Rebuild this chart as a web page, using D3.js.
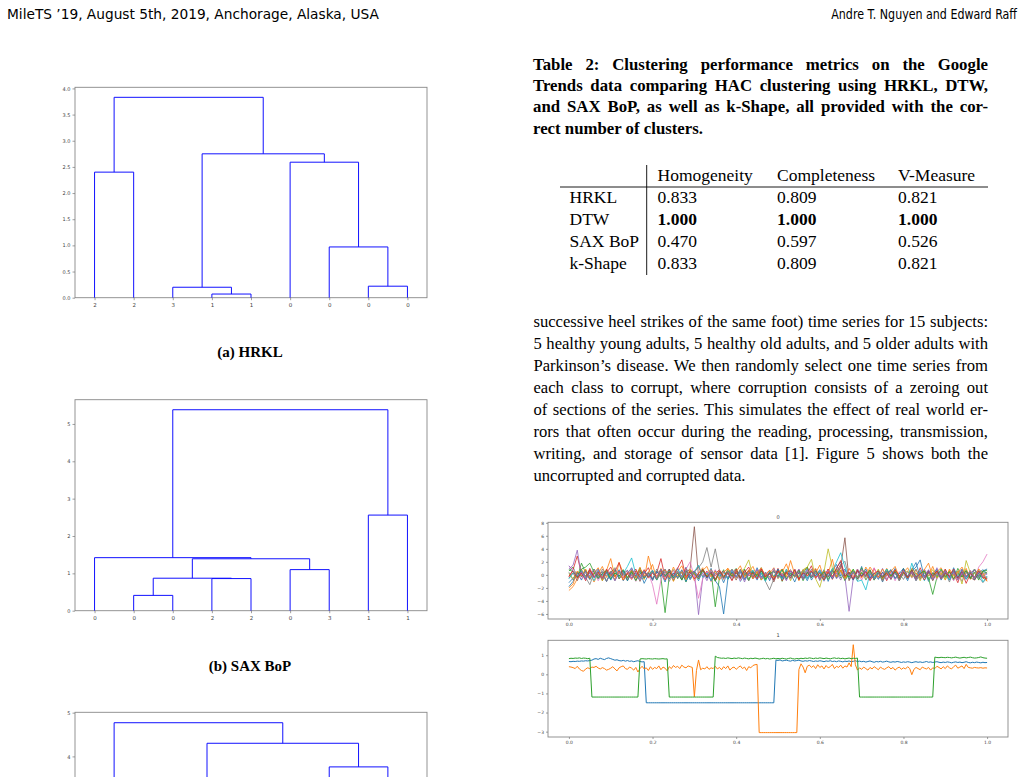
<!DOCTYPE html>
<html>
<head>
<meta charset="utf-8">
<script src="https://cdn.jsdelivr.net/npm/d3@7"></script>
<style>
  body { margin: 0; background: #fff; }
  svg { display: block; }
</style>
</head>
<body>
<svg id="page" width="1023" height="777"></svg>
<script>
// ---------- data ----------
const headerLeft = "MileTS ’19, August 5th, 2019, Anchorage, Alaska, USA";
const headerRight = "Andre T. Nguyen and Edward Raff";

// dendrograms: leaf labels in display order, merges as [childA, childB, height]
// (ids 0..n-1 are leaves, n+k is the k-th merge)
const hrklLeaves = ["2", "2", "3", "1", "1", "0", "0", "0", "0"];
const hrklMerges = [[3, 4, 0.07], [2, 9, 0.20], [7, 8, 0.22], [6, 11, 0.97],
                    [5, 12, 2.59], [0, 1, 2.40], [10, 13, 2.75], [14, 15, 3.83]];
const hrklTicks = [0, 0.5, 1, 1.5, 2, 2.5, 3, 3.5, 4];

const saxLeaves = ["0", "0", "0", "2", "2", "0", "3", "1", "1"];
const saxMerges = [[1, 2, 0.41], [3, 4, 0.86], [9, 10, 0.87], [5, 6, 1.10],
                   [11, 12, 1.39], [0, 13, 1.42], [7, 8, 2.56], [14, 15, 5.38]];
const saxTicks = [0, 1, 2, 3, 4, 5];

const dtwLeaves = ["1", "1", "2", "2", "2", "3", "0", "0", "0"];
const dtwMerges = [[4, 5, 1.2], [3, 9, 2.0], [2, 10, 2.9], [7, 8, 0.9],
                   [6, 12, 3.76], [11, 13, 4.30], [0, 1, 2.1], [15, 14, 4.77]];
const dtwTicks = [0, 1, 2, 3, 4, 5];

// table 2
const captionLines = [
  "Table 2: Clustering performance metrics on the Google",
  "Trends data comparing HAC clustering using HRKL, DTW,",
  "and SAX BoP, as well as k-Shape, all provided with the cor-",
  "rect number of clusters."
];
const methods = ["HRKL", "DTW", "SAX BoP", "k-Shape"];
const metrics = ["Homogeneity", "Completeness", "V-Measure"];
const homogeneity = [0.833, 1.000, 0.470, 0.833];
const completeness = [0.809, 1.000, 0.597, 0.809];
const vmeasure = [0.821, 1.000, 0.526, 0.821];

const bodyLines = [
  "successive heel strikes of the same foot) time series for 15 subjects:",
  "5 healthy young adults, 5 healthy old adults, and 5 older adults with",
  "Parkinson’s disease. We then randomly select one time series from",
  "each class to corrupt, where corruption consists of a zeroing out",
  "of sections of the series. This simulates the effect of real world er-",
  "rors that often occur during the reading, processing, transmission,",
  "writing, and storage of sensor data [1]. Figure 5 shows both the",
  "uncorrupted and corrupted data."
];

// figure 5, panel "0": 15 uncorrupted gait series, sampled over x = 0..1
const gait0 = [
  [-1.2,-0.5,0.3,-0.8,0.6,-0.2,0.9,-0.6,0.1,-1.0,0.4,-0.3,0.8,-0.9,0.2,1.1,-0.4,0.5,-1.3,0.0,
   0.7,-0.6,0.3,-1.1,0.9,-0.2,0.4,-0.8,1.2,-0.5,0.2,-0.9,0.6,-0.1,1.0,-0.7,0.3,-1.2,0.5,-0.4,
   0.8,-1.0,0.1,0.6,-0.5,1.1,-0.3,0.4,-0.9,0.7,-0.2,0.9,-0.6,0.2,-1.1,0.5,-0.3,1.0,-0.8,0.3,
   -0.4,0.8,-1.0,0.6,1.6,-0.2,0.9,-0.7,0.4,-0.5,1.3,-0.8,0.2,-0.3,0.7,-1.1,0.5,-0.2,1.0,-0.6,
   0.3,-0.9,0.8,1.9,-0.4,0.6,-1.0,0.2,0.9,-0.5,0.4,-0.8,1.1,-0.3,0.5,-0.7,0.2,0.8,-0.4,0.6,0.9],
  [-2.4,-1.8,-0.6,0.9,-0.3,0.5,-1.1,0.2,1.3,-0.4,0.6,-0.8,1.9,0.3,-0.5,0.8,-0.2,1.2,-0.7,2.9,
   0.4,-0.6,1.0,-0.3,0.7,-1.0,0.5,1.4,-0.2,0.6,-0.9,0.3,1.1,-0.5,0.8,-0.1,0.6,-0.7,1.0,0.2,
   -0.4,0.9,-0.8,0.5,1.3,-0.3,0.7,-0.6,0.2,1.1,-0.5,0.4,1.7,-0.2,0.8,-0.9,0.6,1.2,-0.4,0.3,
   1.5,-0.6,0.9,-0.2,0.5,1.0,-0.8,0.4,-0.3,0.9,-0.5,1.2,0.1,-0.7,0.6,-0.2,1.0,-0.4,0.7,-0.9,
   0.3,1.1,-0.3,0.8,-0.6,0.5,-0.2,1.3,-0.5,0.4,-0.8,0.9,-0.1,0.6,-0.4,1.0,-0.7,0.3,0.8,-0.5,-0.9],
  [0.6,1.2,-0.4,1.8,0.3,-0.7,0.9,-0.2,0.5,-1.0,0.4,1.1,-0.6,0.2,-0.9,0.7,-0.3,1.0,-0.5,0.3,
   -0.8,0.6,-0.4,-5.8,-0.2,0.8,-0.6,0.4,-1.1,0.7,0.1,-0.5,0.9,-0.3,0.5,-4.9,-0.4,0.8,-0.7,0.3,
   1.0,-0.5,0.2,-0.9,0.6,-0.1,1.1,-0.6,0.4,-0.3,0.8,-1.0,0.5,-0.2,0.9,-0.7,0.3,1.2,-0.4,0.6,
   -0.8,0.4,-0.3,1.0,-0.5,0.7,-0.9,0.2,0.6,-0.4,1.1,-0.2,0.5,-0.8,0.3,-0.6,0.9,-0.1,0.4,-0.7,
   1.0,-0.3,0.6,-0.9,0.2,0.8,-0.5,-3.0,-0.4,0.7,-0.2,0.5,-0.8,1.0,-0.3,0.4,-0.6,0.9,-0.2,0.5,0.3],
  [-0.3,0.8,2.9,0.2,-0.6,1.0,-0.4,0.5,-0.9,0.3,1.2,-0.2,0.6,-0.8,0.4,-0.1,0.9,-0.5,0.2,1.1,
   -0.6,0.3,2.5,-0.4,0.7,-0.9,0.5,-0.2,1.0,-0.7,0.4,1.3,-0.3,0.6,-1.0,0.2,0.8,-0.5,0.3,-0.2,
   0.9,-0.6,0.4,1.2,-0.3,0.5,-0.8,0.1,0.7,-0.4,1.0,-0.9,0.3,0.6,-0.2,0.8,-0.5,0.2,1.4,-0.6,
   0.4,-0.3,0.9,-0.7,0.5,1.6,-0.4,0.2,-0.8,0.7,-0.1,0.5,-0.6,1.0,-0.3,0.4,-0.9,0.6,0.2,-0.5,
   0.8,-0.2,0.4,-0.7,1.1,-0.4,0.3,-0.8,0.6,-0.1,0.9,-0.5,0.2,-1.2,0.7,-0.3,0.5,-0.8,0.4,0.1,-0.6],
  [0.9,1.5,3.8,-0.2,0.4,-0.7,0.8,-0.3,0.5,-1.0,0.2,0.7,-0.5,0.3,-0.8,1.0,-0.4,0.6,-0.2,0.4,
   -0.9,0.5,-0.3,0.8,-0.6,0.2,1.1,-0.4,0.6,-0.7,0.3,-6.1,-0.5,0.4,-0.9,0.7,-0.2,0.5,-0.6,0.9,
   -0.3,0.4,-1.1,0.6,-0.2,0.8,-0.5,0.3,-0.7,1.0,-0.4,0.2,-0.8,0.6,-0.1,0.9,-0.6,0.3,-0.4,0.7,
   -0.9,0.5,-0.2,0.8,-0.6,0.4,-0.3,-5.6,-0.5,0.9,-0.2,0.6,-0.8,0.3,-0.4,1.0,-0.7,0.2,0.5,-0.3,
   0.8,-0.6,0.4,-0.9,0.3,-0.2,0.7,-0.5,1.1,-0.4,0.6,-0.8,0.2,0.5,-1.0,0.4,-0.3,0.8,-0.6,0.3,0.1],
  [-0.5,0.3,-0.9,0.6,-0.2,0.8,-0.4,0.1,-0.7,0.5,-0.3,0.9,-0.6,0.2,0.7,-0.5,0.3,-1.0,0.4,-0.2,
   0.6,-0.8,0.3,-0.1,0.9,-0.4,0.5,-0.7,0.2,1.0,7.4,-0.3,0.8,-0.5,0.4,-0.9,0.2,0.6,-0.4,0.3,
   -0.8,0.5,-0.2,0.7,-0.6,0.1,0.9,-0.3,0.4,-1.1,0.6,-0.5,0.2,0.8,-0.4,0.3,-0.7,0.5,-0.1,0.9,
   -0.6,0.2,-0.4,0.7,-0.2,1.2,5.7,-0.9,0.4,-0.6,0.3,-0.3,0.8,-0.5,0.2,-0.8,0.6,-0.1,0.4,-0.7,
   0.9,-0.4,0.2,-0.6,0.5,-0.2,0.7,-0.9,0.3,-0.5,0.8,-0.3,0.4,-0.7,0.1,0.6,-0.4,-0.8,0.2,-0.5,-0.3],
  [1.3,0.9,0.2,-0.6,0.5,-0.3,0.8,-0.9,0.2,0.6,-0.4,1.0,-0.2,0.4,-0.7,0.3,-1.0,0.6,-0.3,0.2,
   -1.5,-4.5,-0.8,0.5,-0.2,0.7,-0.5,0.3,0.9,2.0,-0.4,-3.6,-0.6,0.5,-0.3,0.8,-0.7,0.2,0.6,-0.4,
   0.3,-0.9,0.7,-0.2,0.5,-0.6,1.0,-0.3,0.2,-0.8,0.6,-0.1,0.4,-0.7,0.9,-0.5,0.3,-0.2,0.8,-0.6,
   0.4,-1.0,0.7,-0.3,0.2,0.6,-0.5,0.9,-0.2,0.4,-0.8,0.3,-0.4,1.1,-0.6,0.2,-0.3,0.7,-0.9,0.5,
   -0.2,0.6,-0.5,0.3,-0.8,0.9,-0.1,0.4,-0.7,0.6,-0.3,0.2,-0.9,0.5,0.8,-0.4,0.3,-0.6,1.2,2.0,3.2],
  [0.4,-0.8,0.2,0.6,-0.4,-1.5,0.3,-0.6,0.9,-0.2,0.5,-0.9,0.3,0.7,-0.5,0.1,-0.8,0.6,-0.3,0.4,
   -0.7,0.9,-0.2,0.5,-1.0,0.3,-0.4,0.8,-0.6,0.2,0.5,1.1,2.0,4.2,1.2,4.0,0.6,-0.5,0.3,-0.8,
   0.6,-0.2,0.4,-0.9,0.7,-0.3,0.2,-1.0,-2.3,-0.6,0.5,-0.4,0.8,-0.2,0.3,-0.7,0.6,-0.5,0.9,-0.1,
   0.4,-0.8,0.2,0.6,-0.3,1.4,2.1,-0.4,0.5,-0.9,0.3,-0.2,0.7,-0.6,0.4,-1.0,0.2,0.8,-0.5,0.3,
   -0.7,0.5,-0.3,0.9,-0.6,0.2,0.4,-0.8,0.6,-0.2,0.3,-1.1,0.7,-0.4,0.5,-0.6,0.2,0.9,-0.3,-1.2,-0.4],
  [0.2,-0.6,0.5,-0.3,0.8,-0.5,0.1,0.6,-0.9,0.4,-0.2,0.7,-0.4,0.3,-0.8,0.5,-0.1,0.9,-0.6,0.2,
   0.4,-0.7,0.6,-0.3,0.2,-0.9,0.5,-0.4,0.8,-0.2,0.3,-0.6,0.7,-0.1,0.4,-1.0,0.6,-0.3,0.2,0.9,
   -0.5,0.4,1.0,2.3,-0.2,0.6,-0.8,0.3,-0.4,0.7,-0.6,0.2,0.5,-0.9,0.4,-0.2,0.8,1.2,2.4,-0.6,
   -1.9,0.5,4.0,1.1,-0.3,0.6,-0.5,0.2,0.8,-0.4,0.3,-0.7,0.5,-0.2,0.9,-0.6,0.4,-0.3,0.7,-0.8,
   0.2,0.6,-0.4,0.3,-0.9,0.5,-0.1,0.8,-0.5,0.3,-0.7,0.4,-0.2,0.6,-1.4,2.2,0.3,-0.5,0.4,-0.2,0.5],
  [-0.6,0.3,-0.2,0.7,-0.5,0.4,-0.9,0.6,-0.1,0.3,-0.7,0.8,-0.4,0.2,1.3,2.6,0.1,-0.6,0.5,-0.3,
   0.7,-0.8,0.4,-0.2,0.6,-0.5,0.9,-0.3,0.2,-0.7,0.5,1.5,-0.4,0.3,-0.9,0.6,-0.2,0.4,-0.6,0.8,
   -0.3,0.5,-0.8,0.2,0.7,-0.4,0.3,-1.0,0.6,-0.2,0.4,-0.7,0.9,-0.5,0.2,-0.3,0.8,-0.6,0.4,-0.1,
   0.6,-0.9,0.3,0.7,2.0,3.4,1.2,-0.4,0.5,-1.0,-0.8,-2.3,0.2,-0.5,0.6,-0.3,0.9,-0.7,0.4,-0.2,
   0.5,-0.6,1.8,-0.3,0.7,-0.9,0.4,-0.2,0.6,-0.5,0.3,-0.8,0.8,-0.4,0.2,-0.6,0.5,-0.3,0.7,-1.1,-0.2],
  [-1.8,-1.0,0.4,-0.3,0.7,-0.6,0.2,0.9,-0.4,0.5,-0.8,0.3,-0.2,0.6,-0.9,0.4,-0.1,0.8,-0.5,0.3,
   -0.7,0.5,-0.2,0.9,-0.6,0.3,-0.4,0.7,-1.0,0.2,0.6,-0.3,0.8,-0.5,0.4,-0.9,-1.8,-6.0,-0.7,0.5,
   -0.3,0.8,-0.6,0.2,0.4,-0.8,0.6,-0.2,0.3,-0.7,0.9,-0.4,0.5,-0.1,0.7,-0.6,0.3,-0.9,0.5,-0.2,
   0.8,-0.4,0.3,-0.6,1.1,2.0,-0.3,0.4,-0.8,0.6,-0.2,0.9,-0.5,0.3,-0.7,0.4,-0.1,0.8,-0.6,0.2,
   1.0,-0.5,0.6,1.2,2.3,-0.4,0.5,-0.3,0.7,-0.8,0.2,-0.2,0.6,-0.5,0.9,-0.3,0.4,-0.7,0.3,0.8,0.2],
  [-2.0,-1.4,0.6,-0.2,0.9,-0.5,0.3,1.1,-0.4,0.7,2.5,-0.3,0.5,-0.8,0.2,0.6,-0.5,0.9,-0.2,0.4,
   1.6,-0.6,0.3,0.8,-0.4,1.2,-0.2,0.5,-0.7,0.9,0.1,-0.5,0.7,1.3,-0.3,0.6,-0.8,0.4,1.0,-0.2,
   0.5,1.4,-0.4,0.8,-0.6,0.3,1.1,-0.2,0.7,-0.5,0.4,0.9,-0.3,2.2,0.1,-0.6,0.8,-0.1,0.5,1.0,
   -0.4,0.6,0.2,2.4,-0.3,0.7,-0.5,1.0,0.2,-0.6,0.8,-0.2,1.2,0.3,-0.4,0.9,-0.1,0.5,1.3,-0.3,
   0.6,-0.5,1.0,0.2,-0.2,0.8,1.8,-0.4,0.5,1.1,-0.3,0.7,-0.6,0.4,1.2,-0.2,0.6,-0.5,0.9,0.3,-1.0],
  [0.8,0.5,-0.3,0.9,1.2,1.8,0.4,-0.5,0.2,0.7,-0.6,0.3,-0.2,0.8,-0.4,0.5,-0.9,0.2,0.6,-0.3,
   0.4,-0.7,0.9,-0.2,0.5,-0.5,0.3,-0.8,0.6,-0.1,0.4,-0.6,0.8,-0.3,0.2,-0.9,0.5,-0.4,0.7,-0.2,
   0.3,-0.5,0.9,-0.7,0.4,-0.1,0.6,-0.8,0.2,0.5,-0.3,0.8,-0.6,0.3,-0.2,0.7,-0.9,0.4,-0.4,0.6,
   -0.2,0.5,-0.7,0.3,0.8,-0.5,0.2,-0.3,0.9,-0.6,0.4,-0.1,0.7,-0.8,0.3,-0.4,0.6,-0.2,0.5,-0.9,
   0.4,-0.3,0.8,-0.5,0.2,0.6,-0.7,0.3,-0.2,0.9,-0.4,0.5,-0.6,0.2,-0.3,0.7,-0.5,0.4,-0.8,0.6,0.7],
  [-0.2,0.6,-0.5,0.3,-0.9,0.7,-0.3,0.4,-0.6,0.9,-0.1,0.5,1.9,-0.4,0.2,-0.7,0.6,-0.3,0.8,-0.5,
   0.3,-0.2,0.7,-0.8,0.4,-0.1,1.0,2.3,-0.4,0.5,-0.6,0.2,0.8,-0.3,0.4,-0.7,0.6,-0.2,0.3,-0.9,
   0.5,-0.4,0.7,-0.1,0.3,-0.6,0.9,-0.3,0.2,-0.8,0.6,-0.2,0.4,-0.5,0.8,-0.7,0.3,-0.1,0.6,-0.4,
   0.2,-0.8,0.5,-0.3,1.0,2.2,-0.2,0.4,-0.6,0.7,-0.3,0.5,-0.9,0.2,0.6,-0.4,0.3,-0.7,0.8,-0.2,
   0.4,-0.5,0.7,-0.3,0.2,-0.8,0.5,-0.1,0.6,-0.6,0.3,-0.2,0.9,-0.5,0.4,-1.3,0.2,-0.4,0.6,-0.3,-0.7],
  [1.4,0.6,-0.2,0.5,-0.7,0.3,-0.4,0.8,-0.6,0.2,0.5,-0.9,0.4,-0.1,0.7,-0.5,0.3,-0.8,0.6,-0.2,
   0.4,-0.6,0.9,-0.3,0.2,-0.7,0.5,-0.4,0.8,-0.2,0.6,-0.5,0.3,-0.9,0.7,-0.1,0.4,-0.6,0.2,0.8,
   -0.4,0.5,-0.8,0.3,-0.2,0.9,-0.6,0.4,-0.3,0.7,-0.5,0.2,-0.9,0.6,-0.1,0.4,-0.7,0.8,-0.3,0.5,
   -0.6,0.2,0.7,-0.4,0.3,-0.8,0.6,-0.2,0.5,-0.5,0.9,-0.3,0.4,-0.7,0.2,-0.1,0.6,-0.5,0.3,-0.9,
   0.7,-0.2,0.5,-0.6,0.4,-0.3,0.8,-0.7,0.2,-0.4,0.6,-0.1,0.5,-0.8,0.3,-0.2,0.7,-0.5,0.4,-0.3,0.2]
];

// figure 5, panel "1": the three corrupted series (step 0.005)
const corruptBlue = [
  0.67,0.66,0.68,0.67,0.69,0.68,0.70,0.69,0.71,0.70,0.72,0.74,0.80,0.82,0.78,0.84,0.80,0.77,0.83,0.86,
  0.82,0.78,0.74,0.76,0.72,0.70,0.73,0.69,0.72,0.68,0.70,0.66,0.69,0.71,0.67,0.65,0.66,-1.49,-1.49,-1.49,
  -1.49,-1.49,-1.49,-1.49,-1.49,-1.49,-1.49,-1.49,-1.49,-1.49,-1.49,-1.49,-1.49,-1.49,-1.49,-1.49,-1.49,-1.49,-1.49,-1.49,
  -1.49,-1.49,-1.49,-1.49,-1.49,-1.49,-1.49,-1.49,-1.49,-1.49,-1.49,-1.49,-1.49,-1.49,-1.49,-1.49,-1.49,-1.49,-1.49,-1.49,
  -1.49,-1.49,-1.49,-1.49,-1.49,-1.49,-1.49,-1.49,-1.49,-1.49,-1.49,-1.49,-1.49,-1.49,-1.49,-1.49,-1.49,-1.49,-1.49,0.74,
  0.73,0.75,0.70,0.72,0.74,0.71,0.69,0.73,0.70,0.72,0.74,0.70,0.68,0.71,0.69,0.72,0.70,0.67,0.70,0.68,
  0.71,0.69,0.66,0.70,0.68,0.71,0.67,0.69,0.66,0.70,0.68,0.65,0.69,0.67,0.70,0.66,0.68,0.71,0.67,0.69,
  0.66,0.68,0.64,0.67,0.70,0.66,0.63,0.67,0.65,0.68,0.64,0.66,0.69,0.65,0.63,0.66,0.64,0.67,0.65,0.62,
  0.65,0.63,0.66,0.64,0.61,0.64,0.66,0.63,0.65,0.62,0.64,0.67,0.63,0.65,0.62,0.64,0.66,0.63,0.61,0.64,
  0.62,0.65,0.63,0.60,0.63,0.65,0.62,0.64,0.61,0.63,0.66,0.62,0.60,0.63,0.61,0.64,0.62,0.60,0.63,0.61,
  0.62
];
const corruptOrange = [
  0.40,0.38,0.35,0.30,0.42,0.28,0.20,0.16,0.28,0.34,0.30,0.38,0.36,0.42,0.33,0.28,0.35,0.30,0.22,0.26,
  0.32,0.40,0.28,0.18,0.34,0.40,0.44,0.30,0.26,0.38,0.32,0.22,0.36,0.12,0.30,0.42,0.28,0.34,0.20,0.40,
  0.26,0.36,0.30,0.44,0.24,0.38,0.32,0.18,0.40,0.30,0.46,0.36,0.42,0.30,0.48,0.38,0.34,0.44,0.40,0.36,
  -1.18,0.20,0.75,0.24,0.32,0.28,0.40,0.26,0.34,0.30,0.42,0.28,0.36,0.24,0.40,0.30,0.44,0.22,0.34,0.38,
  0.26,0.36,0.44,0.30,0.38,0.20,0.40,0.34,0.46,0.50,0.52,-3.05,-3.05,-3.05,-3.05,-3.05,-3.05,-3.05,-3.05,-3.05,
  -3.05,-3.05,-3.05,-3.05,-3.05,-3.05,-3.05,-3.05,-3.05,-3.05,0.25,0.55,0.38,0.08,0.42,0.48,0.36,0.45,0.30,0.50,
  0.36,0.44,0.28,0.46,0.34,0.40,0.52,0.30,0.42,0.36,0.48,0.32,0.44,0.38,0.60,0.40,1.55,0.50,0.22,0.34,
  0.26,0.38,0.30,0.22,0.36,0.28,0.40,0.32,0.24,0.38,0.30,0.26,0.34,0.40,0.28,0.36,0.22,0.32,0.38,0.26,
  0.34,0.28,0.40,0.30,-0.02,0.26,0.36,0.30,0.24,0.38,0.32,0.28,0.36,0.22,0.34,0.30,0.42,0.36,0.28,0.40,
  0.30,0.44,0.34,0.28,0.40,0.48,0.32,0.38,0.44,0.30,0.52,0.36,0.34,0.32,0.36,0.34,0.33,0.35,0.32,0.34,
  0.33
];
const corruptGreen = [
  0.82,0.84,0.83,0.85,0.84,0.86,0.83,0.85,0.84,0.82,0.84,-1.19,-1.19,-1.19,-1.19,-1.19,-1.19,-1.19,-1.19,-1.19,
  -1.19,-1.19,-1.19,-1.19,-1.19,-1.19,-1.19,-1.19,-1.19,-1.19,-1.19,-1.19,-1.19,-1.19,0.80,0.82,0.81,0.80,0.82,0.81,
  0.80,0.82,0.81,0.80,0.81,0.82,0.80,0.81,-1.19,-1.19,-1.19,-1.19,-1.19,-1.19,-1.19,-1.19,-1.19,-1.19,-1.19,-1.19,
  -1.19,-1.19,-1.19,-1.19,-1.19,-1.19,-1.19,-1.19,-1.19,-1.19,0.95,0.88,0.86,0.84,0.85,0.83,0.86,0.84,0.82,0.85,
  0.83,0.86,0.84,0.82,0.85,0.83,0.81,0.84,0.82,0.85,0.83,0.80,0.82,0.84,0.81,0.83,0.80,0.82,0.84,0.81,
  0.83,0.81,0.84,0.82,0.80,0.83,0.85,0.82,0.80,0.83,0.81,0.84,0.82,0.85,0.83,0.86,0.84,0.82,0.85,0.83,
  0.86,0.84,0.82,0.85,0.83,0.81,0.84,0.86,0.83,0.85,0.82,0.84,0.81,0.83,0.85,0.82,0.84,0.83,0.85,-1.19,
  -1.19,-1.19,-1.19,-1.19,-1.19,-1.19,-1.19,-1.19,-1.19,-1.19,-1.19,-1.19,-1.19,-1.19,-1.19,-1.19,-1.19,-1.19,-1.19,-1.19,
  -1.19,-1.19,-1.19,-1.19,-1.19,-1.19,-1.19,-1.19,-1.19,-1.19,-1.19,-1.19,-1.19,-1.19,-1.19,0.90,0.88,0.87,0.89,0.88,
  0.87,0.89,0.88,0.86,0.88,0.90,0.87,0.85,0.87,0.89,0.86,0.88,0.90,0.87,0.85,0.86,0.88,0.91,0.87,0.85,
  0.84
];
const tsXTicks = [0, 0.2, 0.4, 0.6, 0.8, 1.0];
const gait0Ticks = [-6, -4, -2, 0, 2, 4, 6, 8];
const gait1Ticks = [-3, -2, -1, 0, 1];

// ---------- drawing ----------
const PAGE_H = 777;
const svg = d3.select("#page");
const tab10 = d3.schemeCategory10;
const serif = "'Liberation Serif', 'Times New Roman', serif";
const tickFont = "'DejaVu Sans', sans-serif";

function styleAxis(sel, size) {
    sel.select(".domain").remove();
    sel.selectAll(".tick line").attr("stroke", "#777").attr("stroke-width", 0.7);
    sel.selectAll(".tick text").attr("fill", "#444")
        .style("font-family", tickFont).style("font-size", size + "px");
}

function dendrogram(leaves, merges, box, ticks, fmt) {
    const n = leaves.length;
    const x = d3.scaleLinear().domain([0, 10 * n]).range([box.x, box.x + box.w]);
    const y = d3.scaleLinear().domain([0, d3.max(merges, m => m[2]) * 1.05])
        .range([box.y + box.h, box.y]);

    const pos = leaves.map((d, i) => 5 + 10 * i);
    const hgt = leaves.map(() => 0);
    const links = [];
    merges.forEach(([a, b, h]) => {
        links.push([[pos[a], hgt[a]], [pos[a], h], [pos[b], h], [pos[b], hgt[b]]]);
        pos.push((pos[a] + pos[b]) / 2);
        hgt.push(h);
    });

    const g = svg.append("g");
    g.append("rect")
        .attr("x", box.x).attr("y", box.y).attr("width", box.w).attr("height", box.h)
        .attr("fill", "none").attr("stroke", "#888").attr("stroke-width", 0.9);

    const line = d3.line().x(d => x(d[0])).y(d => y(d[1]));
    g.selectAll("path.link")
        .data(links)
        .join("path")
        .attr("class", "link")
        .attr("d", line)
        .attr("fill", "none")
        .attr("stroke", "#1010ff")
        .attr("stroke-width", 1);

    // only the ticks that land on the page
    g.append("g")
        .attr("transform", `translate(${box.x},0)`)
        .call(d3.axisLeft(y).tickValues(ticks.filter(t => y(t) < PAGE_H - 4))
            .tickFormat(fmt).tickSize(2.5).tickPadding(2))
        .call(s => styleAxis(s, 5));

    if (box.y + box.h + 10 < PAGE_H) {
        g.append("g")
            .attr("transform", `translate(0,${box.y + box.h})`)
            .call(d3.axisBottom(x).tickValues(leaves.map((d, i) => 5 + 10 * i))
                .tickFormat((d, i) => leaves[i]).tickSize(2.5).tickPadding(3))
            .call(s => styleAxis(s, 5.5));
    }
}

function tsPanel(series, box, yTicks, title, width) {
    const x = d3.scaleLinear().domain([-0.05, 1.05]).range([box.x, box.x + box.w]);
    const ext = d3.extent(series.flat());
    const pad = (ext[1] - ext[0]) * 0.05;
    const y = d3.scaleLinear().domain([ext[0] - pad, ext[1] + pad]).range([box.y + box.h, box.y]);

    const g = svg.append("g");
    const line = d3.line()
        .x((d, i, arr) => x(i / (arr.length - 1)))
        .y(d => y(d));

    g.selectAll("path.series")
        .data(series)
        .join("path")
        .attr("class", "series")
        .attr("d", d => line(d))
        .attr("fill", "none")
        .attr("stroke", (d, i) => tab10[i % 10])
        .attr("stroke-width", width)
        .attr("stroke-linejoin", "round");

    g.append("rect")
        .attr("x", box.x).attr("y", box.y).attr("width", box.w).attr("height", box.h)
        .attr("fill", "none").attr("stroke", "#888").attr("stroke-width", 0.9);

    g.append("g")
        .attr("transform", `translate(${box.x},0)`)
        .call(d3.axisLeft(y).tickValues(yTicks).tickFormat(d3.format("d")).tickSize(2).tickPadding(2))
        .call(s => styleAxis(s, 4.5));

    g.append("g")
        .attr("transform", `translate(0,${box.y + box.h})`)
        .call(d3.axisBottom(x).tickValues(tsXTicks).tickFormat(d3.format(".1f")).tickSize(2).tickPadding(2))
        .call(s => styleAxis(s, 4.5));

    g.append("text")
        .attr("x", box.x + box.w / 2).attr("y", box.y - 3.5)
        .attr("text-anchor", "middle")
        .style("font-family", tickFont).style("font-size", "5px").attr("fill", "#444")
        .text(title);
}

function textLine(str, x, y, opts) {
    const t = svg.append("text")
        .attr("x", x).attr("y", y)
        .style("font-family", opts.family || serif)
        .style("font-size", opts.size + "px")
        .style("font-weight", opts.weight || "normal")
        .attr("fill", "#000")
        .text(str);
    if (opts.anchor) t.attr("text-anchor", opts.anchor);
    return t;
}

// stretch inter-word gaps so a line fills its measure, like TeX justification
function justify(t, target) {
    const w = t.node().getComputedTextLength();
    const gaps = (t.text().match(/ /g) || []).length;
    if (!gaps) return;
    t.style("word-spacing", ((target - w) / gaps) + "px");
    const w2 = t.node().getComputedTextLength();
    if (Math.abs(w2 - target) > 2) {
        t.style("word-spacing", null).attr("textLength", target).attr("lengthAdjust", "spacing");
    }
}

// header text squeezed horizontally (condensed look) to a given width
function headerText(str, x, y, target, anchor) {
    const t = textLine(str, 0, 0, { family: sansNarrow, size: 14.5, anchor: anchor });
    const w = t.node().getComputedTextLength();
    t.attr("x", null).attr("y", null)
        .attr("transform", `translate(${x},${y}) scale(${target / w},1)`);
    return t;
}

const sansNarrow = "'Liberation Sans Narrow', 'DejaVu Sans Condensed', sans-serif";
headerText(headerLeft, 7, 19, 372, "start");
headerText(headerRight, 1017, 19, 186, "end");

// dendrograms
dendrogram(hrklLeaves, hrklMerges, { x: 75, y: 87.3, w: 352, h: 210.4 }, hrklTicks, d3.format(".1f"));
dendrogram(saxLeaves, saxMerges, { x: 75, y: 399.7, w: 352, h: 211 }, saxTicks, d3.format("d"));
dendrogram(dtwLeaves, dtwMerges, { x: 75, y: 712.3, w: 352, h: 219 }, dtwTicks, d3.format("d"));

textLine("(a) HRKL", 250, 357, { size: 15, weight: "bold", anchor: "middle" });
textLine("(b) SAX BoP", 250, 671, { size: 15, weight: "bold", anchor: "middle" });

// table caption (justified)
captionLines.forEach((s, i) => {
    const t = textLine(s, 533, 69.8 + i * 21.3, { size: 16.8, weight: "bold" });
    if (i < captionLines.length - 1) justify(t, 455);
});

// table
const colX = [657.5, 777, 898];
const rowY = d3.range(methods.length).map(i => 203.3 + i * 21.9);
const fmt3 = d3.format(".3f");
metrics.forEach((m, j) => textLine(m, colX[j], 181, { size: 17.5 }));
svg.append("line").attr("x1", 560).attr("x2", 988).attr("y1", 187).attr("y2", 187)
    .attr("stroke", "#000").attr("stroke-width", 0.9);
svg.append("line").attr("x1", 646.7).attr("x2", 646.7).attr("y1", 165).attr("y2", 275)
    .attr("stroke", "#000").attr("stroke-width", 0.9);
methods.forEach((m, i) => {
    const w = m === "DTW" ? "bold" : "normal";
    textLine(m, 569.5, rowY[i], { size: 17.5 });
    [homogeneity, completeness, vmeasure].forEach((col, j) =>
        textLine(fmt3(col[i]), colX[j], rowY[i], { size: 17.5, weight: w }));
});

// body paragraph (justified)
bodyLines.forEach((s, i) => {
    const t = textLine(s, 533.5, 327 + i * 22, { size: 16.6 });
    if (i < bodyLines.length - 1) justify(t, 454.5);
});

// figure 5 panels
tsPanel(gait0, { x: 548, y: 522.3, w: 460, h: 96.7 }, gait0Ticks, "0", 0.8);
tsPanel([corruptBlue, corruptOrange, corruptGreen], { x: 548, y: 640.3, w: 460, h: 96.7 }, gait1Ticks, "1", 1);
</script>
</body>
</html>
